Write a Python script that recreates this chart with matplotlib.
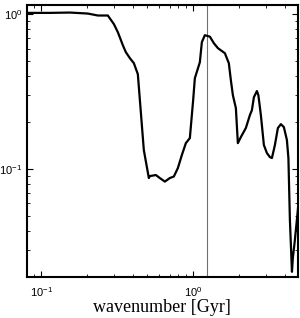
import numpy as np
import matplotlib
matplotlib.use('Agg')
from matplotlib import pyplot as plt

plt.rcParams['font.family'] = ['Liberation Sans', 'DejaVu Sans']

# curve
wavenumber = [0.0798, 0.1136, 0.154, 0.202, 0.2355, 0.274, 0.3006, 0.319, 0.344,
              0.360, 0.383, 0.4066, 0.432, 0.473, 0.5105, 0.5185, 0.568, 0.603,
              0.651, 0.702, 0.746, 0.793, 0.842, 0.895, 0.951, 1.0, 1.026, 1.107,
              1.141, 1.194, 1.289, 1.369, 1.455, 1.618, 1.718, 1.772, 1.827, 1.912,
              1.97, 2.063, 2.224, 2.365, 2.438, 2.513, 2.63, 2.69, 2.794, 2.924,
              3.06, 3.204, 3.304, 3.457, 3.616, 3.785, 3.96, 4.147, 4.243, 4.34,
              4.477, 4.54, 4.68, 4.86, 5.05]
power = [1.02, 1.02, 1.025, 1.01, 0.981, 0.981, 0.862, 0.765, 0.631,
         0.569, 0.520, 0.483, 0.410, 0.1327, 0.0875, 0.0901, 0.0915, 0.0875,
         0.083, 0.0875, 0.0895, 0.1015, 0.123, 0.147, 0.1585, 0.279, 0.386, 0.49,
         0.660, 0.732, 0.716, 0.650, 0.604, 0.560, 0.483, 0.375, 0.300, 0.2475,
         0.147, 0.161, 0.184, 0.223, 0.240, 0.291, 0.319, 0.300, 0.223, 0.143,
         0.127, 0.1195, 0.1178, 0.143, 0.184, 0.195, 0.1866, 0.154, 0.1178, 0.0469,
         0.0217, 0.0267, 0.0348, 0.0505, 0.075]
marker_x = 1.24

fig = plt.figure(figsize=(3.0, 3.18), dpi=100)
ax = fig.add_axes([0.089, 0.128, 0.904, 0.855])

ax.axvline(marker_x, color='#707070', lw=0.8)
ax.plot(wavenumber, power, color='black', lw=1.6)

ax.set_xscale('log')
ax.set_yscale('log')
ax.set_xlim(0.08, 4.9)
ax.set_ylim(0.02, 1.14)

for s in ax.spines.values():
    s.set_linewidth(1.5)
ax.tick_params(which='both', direction='in', top=True, right=True, labelsize=8)
ax.tick_params(which='major', length=4, width=0.8)
ax.tick_params(which='minor', length=2, width=0.6)
ax.tick_params(axis='x', pad=6)
ax.tick_params(axis='y', pad=3)

ax.set_xlabel('wavenumber [Gyr]', family=['Liberation Serif'], fontsize=13, labelpad=0)

fig.savefig('out.png', dpi=100)
